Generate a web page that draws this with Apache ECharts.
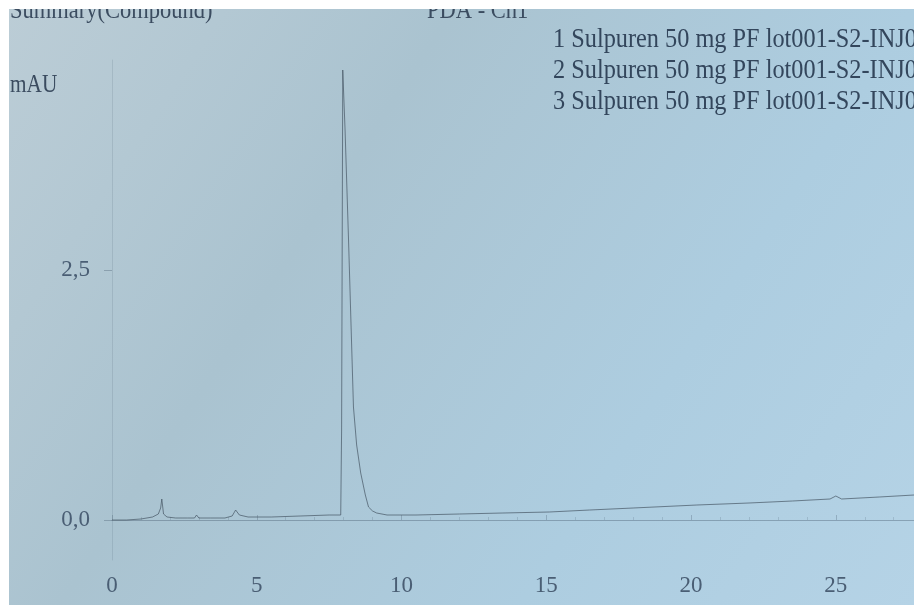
<!DOCTYPE html>
<html>
<head>
<meta charset="utf-8">
<script src="https://cdn.jsdelivr.net/npm/echarts@6/dist/echarts.min.js"></script>
<style>html,body{margin:0;padding:0;background:#fff}#c{width:914px;height:605px}</style>
</head>
<body>
<div id="c"></div>
<script>
// Retention time (min) and absorbance (mAU)
const timeMin = [0, 0.5, 1.0, 1.4, 1.6, 1.68, 1.72, 1.78, 1.9, 2.2, 2.6, 2.85, 2.92, 3.0, 3.4, 3.9, 4.15, 4.27, 4.4, 4.7, 5.5, 6.5, 7.5, 7.9, 7.93, 7.97, 8.05, 8.17, 8.34, 8.45, 8.59, 8.75, 8.86, 9.0, 9.14, 9.5, 10.5, 12, 13.5, 15.1, 16.5, 18, 20.2, 22, 23.5, 24.8, 25.0, 25.2, 26.5, 27.7];
const absorb = [0.00, 0.00, 0.01, 0.03, 0.06, 0.12, 0.21, 0.06, 0.03, 0.02, 0.02, 0.02, 0.05, 0.02, 0.02, 0.02, 0.04, 0.10, 0.05, 0.03, 0.03, 0.04, 0.05, 0.05, 0.9, 4.50, 3.9, 2.8, 1.13, 0.75, 0.47, 0.25, 0.13, 0.09, 0.07, 0.05, 0.05, 0.06, 0.07, 0.08, 0.10, 0.12, 0.15, 0.17, 0.19, 0.21, 0.24, 0.21, 0.23, 0.25];
const xTicks = [0, 5, 10, 15, 20, 25];
const yTicks = [0, 2.5];
const legendLabels = ['1 Sulpuren 50 mg PF lot001-S2-INJ0', '2 Sulpuren 50 mg PF lot001-S2-INJ0', '3 Sulpuren 50 mg PF lot001-S2-INJ0'];
const titleLeft = 'Summary(Compound)';
const titleMid = 'PDA - Ch1';
const yUnit = 'mAU';

const chart = echarts.init(document.getElementById('c'), null, {renderer: 'canvas'});
const serif = 'Liberation Serif';
const txt = '#3b4c60';
const option = {
  backgroundColor: new echarts.graphic.LinearGradient(0, 0, 1, 1, [
    {offset: 0, color: '#bccdd6'},
    {offset: 0.35, color: '#aac3d0'},
    {offset: 0.7, color: '#adcde0'},
    {offset: 1, color: '#b5d3e6'}
  ]),
  animation: false,
  grid: {left: 112, right: 0, top: 60, bottom: 45},
  xAxis: {
    type: 'value', min: 0, max: 27.7, interval: 5,
    axisLine: {show: true, lineStyle: {color: 'rgba(70,90,110,0.4)', width: 1}},
    axisTick: {show: true, length: 5, inside: true, lineStyle: {color: 'rgba(70,90,110,0.3)'}},
    minorTick: {show: true, splitNumber: 5, length: 3, lineStyle: {color: 'rgba(70,90,110,0.2)'}},
    splitLine: {show: false},
    axisLabel: {
      customValues: xTicks, margin: 14,
      fontFamily: serif, fontSize: 23, color: '#4a5e74',
      formatter: v => String(v)
    }
  },
  yAxis: {
    type: 'value', min: -0.4, max: 4.6,
    axisLine: {show: true, lineStyle: {color: 'rgba(70,90,110,0.15)', width: 1}},
    axisTick: {show: true, customValues: yTicks, length: 8, lineStyle: {color: 'rgba(70,90,110,0.35)'}},
    splitLine: {show: false},
    axisLabel: {
      customValues: yTicks, margin: 22,
      fontFamily: serif, fontSize: 23, color: '#4a5e74',
      formatter: v => v.toFixed(1).replace('.', ',')
    }
  },
  series: [{
    type: 'line',
    data: timeMin.map((t, i) => [t, absorb[i]]),
    showSymbol: false,
    smooth: false,
    lineStyle: {color: 'rgba(70,85,100,0.7)', width: 1},
    clip: true
  }],
  graphic: [
    {type: 'text', x: 10, y: -1, scaleX: 0.9, z: 10, style: {text: titleLeft, font: '25px ' + serif, fill: txt}},
    {type: 'text', x: 427, y: -1, scaleX: 0.9, z: 10, style: {text: titleMid, font: '25px ' + serif, fill: txt}},
    {type: 'rect', left: 0, top: 0, z: 20, shape: {width: 914, height: 9}, style: {fill: '#ffffff'}},
    {type: 'rect', left: 0, top: 0, z: 20, shape: {width: 9, height: 605}, style: {fill: '#ffffff'}},
    {type: 'text', x: 10, y: 73, scaleX: 0.85, z: 10, style: {text: yUnit, font: '25px ' + serif, fill: txt}},
    ...legendLabels.map((s, i) => ({
      type: 'text', x: 553, y: 26 + i * 31, scaleX: 0.9, z: 10,
      style: {text: s, font: '27px ' + serif, fill: '#33465c'}
    }))
  ]
};
chart.setOption(option);
</script>
</body>
</html>
